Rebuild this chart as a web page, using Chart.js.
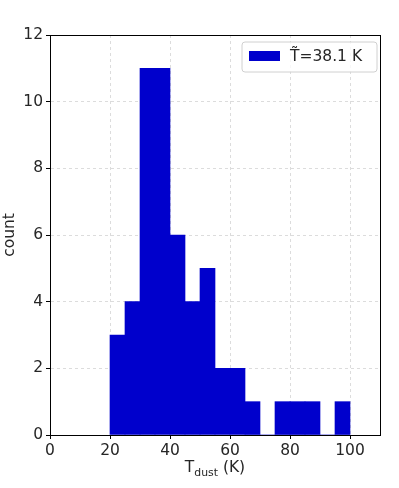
<!DOCTYPE html>
<html lang="en">
<head>
    <meta charset="UTF-8">
    <title>Dust temperature histogram</title>
    <script src="https://cdn.jsdelivr.net/npm/chart.js@4"></script>
    <style>
        html, body { margin: 0; padding: 0; background: #fff; }
        #wrap { width: 399px; height: 488px; }
    </style>
</head>
<body>
    <div id="wrap"><canvas id="chart" width="399" height="488"></canvas></div>
    <script>
        // histogram bins (left edges, width 5 K) and counts
        const binStarts = [20, 25, 30, 35, 40, 45, 50, 55, 60, 65, 70, 75, 80, 85, 90, 95];
        const counts = [3, 4, 11, 11, 6, 4, 5, 2, 2, 1, 0, 1, 1, 1, 0, 1];
        const binWidth = 5;
        const xTicks = [0, 20, 40, 60, 80, 100];
        const yTicks = [0, 2, 4, 6, 8, 10, 12];
        const legendLabel = "T\u0303=38.1 K";

        const FONT = "'DejaVu Sans', sans-serif";
        const FS = 15.5;
        const BAR = "#0000cc";

        const points = binStarts.map((s, i) => ({ x: s + binWidth / 2, y: counts[i] }));

        // frame, axis titles and legend drawn on top
        const extras = {
            id: "extras",
            afterDraw(chart) {
                const { ctx, chartArea: a } = chart;
                ctx.save();
                ctx.strokeStyle = "#000";
                ctx.lineWidth = 1;
                ctx.strokeRect(a.left + 0.5, a.top + 0.5, a.right - a.left, a.bottom - a.top);

                ctx.fillStyle = "#262626";
                ctx.textBaseline = "middle";
                // y title
                ctx.save();
                ctx.translate(10, (a.top + a.bottom) / 2);
                ctx.rotate(-Math.PI / 2);
                ctx.textAlign = "center";
                ctx.font = FS + "px " + FONT;
                ctx.fillText("count", 0, 0);
                ctx.restore();

                // x title with subscript
                const sub = FS * 0.7;
                ctx.font = FS + "px " + FONT;
                const t1 = "T", t2 = "dust", t3 = " (K)";
                ctx.textAlign = "left";
                const w1 = ctx.measureText(t1).width;
                const w3 = ctx.measureText(t3).width;
                ctx.font = sub + "px " + FONT;
                const w2 = ctx.measureText(t2).width;
                const cx = (a.left + a.right) / 2;
                let x = cx - (w1 + w2 + w3) / 2;
                const y = 468;
                ctx.font = FS + "px " + FONT;
                ctx.fillText(t1, x, y);
                x += w1;
                ctx.font = sub + "px " + FONT;
                ctx.fillText(t2, x, y + 5);
                x += w2;
                ctx.font = FS + "px " + FONT;
                ctx.fillText(t3, x, y);

                // legend box
                const lx = 242, ly = 42, lw = 135, lh = 30, r = 3;
                ctx.beginPath();
                ctx.moveTo(lx + r, ly);
                ctx.arcTo(lx + lw, ly, lx + lw, ly + lh, r);
                ctx.arcTo(lx + lw, ly + lh, lx, ly + lh, r);
                ctx.arcTo(lx, ly + lh, lx, ly, r);
                ctx.arcTo(lx, ly, lx + lw, ly, r);
                ctx.closePath();
                ctx.fillStyle = "rgba(255,255,255,0.8)";
                ctx.fill();
                ctx.strokeStyle = "#d0d0d0";
                ctx.stroke();
                ctx.fillStyle = BAR;
                ctx.fillRect(249, 51, 31, 10);
                ctx.fillStyle = "#262626";
                ctx.font = FS + "px " + FONT;
                ctx.fillText(legendLabel, 290, 57);
                ctx.restore();
            }
        };

        const axisCommon = {
            ticks: { color: "#262626", font: { family: FONT, size: FS }, maxRotation: 0 },
            grid: { color: "#dcdcdc", tickColor: "#000", tickLength: 4, tickBorderDash: [], offset: false },
            border: { display: true, color: "#000", width: 1, dash: [3, 3] }
        };

        new Chart(document.getElementById("chart"), {
            type: "bar",
            data: {
                datasets: [{
                    label: legendLabel,
                    data: points,
                    backgroundColor: BAR,
                    borderWidth: 0,
                    barPercentage: 1.0,
                    categoryPercentage: 1.0
                }]
            },
            options: {
                responsive: false,
                animation: false,
                layout: { padding: { top: 35, right: 19, left: 0, bottom: 0 } },
                plugins: { legend: { display: false }, tooltip: { enabled: false } },
                scales: {
                    x: {
                        ...axisCommon,
                        type: "linear",
                        offset: false,
                        min: 0,
                        max: 110,
                        afterBuildTicks: s => { s.ticks = xTicks.map(v => ({ value: v })); },
                        afterFit: s => { s.height = 53; },
                        ticks: { ...axisCommon.ticks, padding: 3 }
                    },
                    y: {
                        ...axisCommon,
                        min: 0,
                        max: 12,
                        afterBuildTicks: s => { s.ticks = yTicks.map(v => ({ value: v })); },
                        afterFit: s => { s.width = 50; },
                        ticks: { ...axisCommon.ticks, padding: 3 }
                    }
                }
            },
            plugins: [extras]
        });
    </script>
</body>
</html>
